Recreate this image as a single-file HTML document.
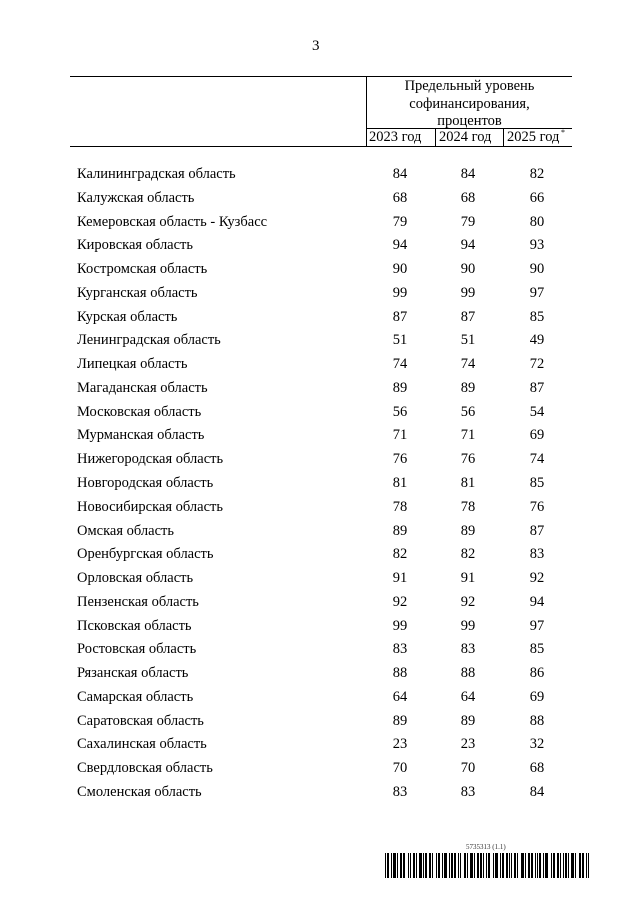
<!DOCTYPE html>
<html><head><meta charset="utf-8"><style>
body{margin:0;background:#fff;width:640px;height:905px;position:relative;font-family:"Liberation Serif",serif;color:#000;overflow:hidden}
.l{position:absolute;background:#000}
.t{position:absolute;font-size:14.5px;line-height:16px;white-space:nowrap}
.c{text-align:center;width:60px}
</style></head><body>
<div class="t" style="left:312px;top:38px;font-size:15px">3</div>
<div class="l" style="left:70px;top:76px;width:502px;height:1px"></div>
<div class="l" style="left:366px;top:76px;width:1px;height:70px"></div>
<div class="l" style="left:366px;top:128px;width:206px;height:1px"></div>
<div class="l" style="left:435px;top:128px;width:1px;height:18px"></div>
<div class="l" style="left:503px;top:128px;width:1px;height:18px"></div>
<div class="l" style="left:70px;top:146px;width:502px;height:1px"></div>
<div class="t" style="left:367px;top:78px;width:205px;text-align:center;line-height:17.5px">Предельный уровень<br>софинансирования,<br>процентов</div>
<div class="t" style="left:369px;top:129px">2023 год</div>
<div class="t" style="left:439px;top:129px">2024 год</div>
<div class="t" style="left:507px;top:129px">2025 год</div>
<div class="t" style="left:561px;top:125px;font-size:8px">*</div>
<div id="rows"></div>
<script>
var d=[["Калининградская область",84,84,82],["Калужская область",68,68,66],["Кемеровская область - Кузбасс",79,79,80],["Кировская область",94,94,93],["Костромская область",90,90,90],["Курганская область",99,99,97],["Курская область",87,87,85],["Ленинградская область",51,51,49],["Липецкая область",74,74,72],["Магаданская область",89,89,87],["Московская область",56,56,54],["Мурманская область",71,71,69],["Нижегородская область",76,76,74],["Новгородская область",81,81,85],["Новосибирская область",78,78,76],["Омская область",89,89,87],["Оренбургская область",82,82,83],["Орловская область",91,91,92],["Пензенская область",92,92,94],["Псковская область",99,99,97],["Ростовская область",83,83,85],["Рязанская область",88,88,86],["Самарская область",64,64,69],["Саратовская область",89,89,88],["Сахалинская область",23,23,32],["Свердловская область",70,70,68],["Смоленская область",83,83,84]];
var h="";d.forEach(function(r,i){var y=166+i*23.77;
h+='<div class="t" style="left:77px;top:'+y+'px">'+r[0]+'</div>';
[400,468,537].forEach(function(x,j){h+='<div class="t c" style="left:'+(x-30)+'px;top:'+y+'px">'+r[j+1]+'</div>';});});
var s='';var x=385,k=0;while(x<589){var w=[1,2,1,3,1,2,2,1][k%8];s+='<div class="l" style="left:'+x+'px;top:853px;width:'+w+'px;height:25px"></div>';x+=w+[1,2,1,1,2,1,3,1,2][k%9];k++;}
document.getElementById("rows").innerHTML=h+s;
</script>
<div class="t" style="left:466px;top:843px;font-size:7px;line-height:8px;color:#333">5735313 (1.1)</div>
</body></html>
